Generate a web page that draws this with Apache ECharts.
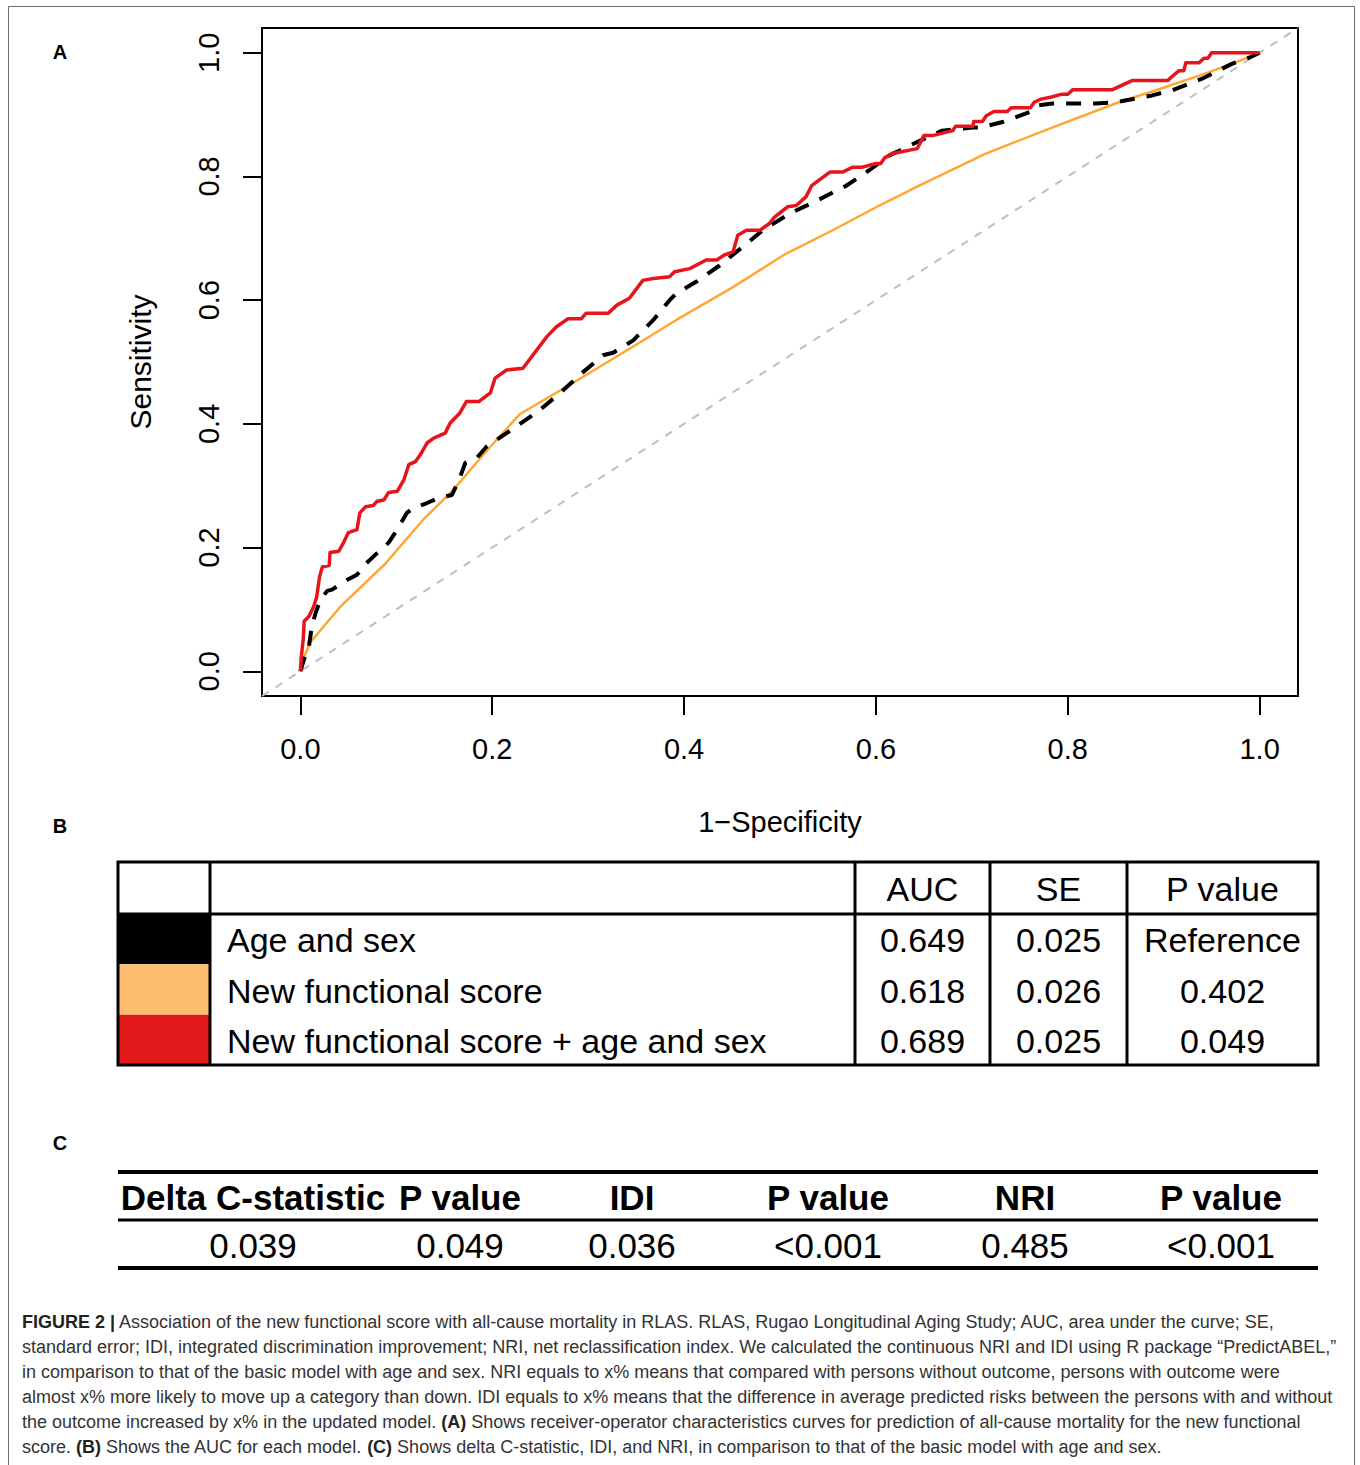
<!DOCTYPE html>
<html><head><meta charset="utf-8">
<script src="https://cdn.jsdelivr.net/npm/echarts@6/dist/echarts.min.js"></script>
<style>html,body{margin:0;padding:0;background:#fff;}#c{width:1360px;height:1465px;}</style>
</head><body><div id="c"></div>
<script>
// ---------- data ----------
const xTicks = [0, 0.2, 0.4, 0.6, 0.8, 1.0];
const yTicks = [0, 0.2, 0.4, 0.6, 0.8, 1.0];
const tickLabels = ['0.0', '0.2', '0.4', '0.6', '0.8', '1.0'];
const axisRange = [-0.04, 1.04];
const diagonalRef = [[-0.04, -0.04], [1.04, 1.04]];

// Age and sex (black dashed)
const ageSexROC = [[0,0],[0.005,0.025],[0.009,0.041],[0.012,0.073],[0.016,0.095],[0.021,0.116],[0.028,0.130],[0.033,0.132],[0.049,0.148],[0.059,0.156],[0.069,0.175],[0.080,0.191],[0.092,0.208],[0.101,0.229],[0.111,0.256],[0.118,0.264],[0.132,0.272],[0.144,0.280],[0.158,0.285],[0.166,0.312],[0.172,0.337],[0.184,0.345],[0.194,0.363],[0.2255,0.396],[0.250,0.423],[0.2705,0.4495],[0.295,0.484],[0.3155,0.511],[0.326,0.515],[0.347,0.535],[0.368,0.568],[0.385,0.600],[0.392,0.611],[0.413,0.630],[0.437,0.656],[0.461,0.686],[0.482,0.713],[0.510,0.740],[0.536,0.759],[0.569,0.785],[0.593,0.810],[0.614,0.834],[0.642,0.855],[0.669,0.874],[0.701,0.879],[0.709,0.879],[0.732,0.888],[0.760,0.904],[0.770,0.915],[0.784,0.918],[0.829,0.918],[0.850,0.920],[0.864,0.924],[0.888,0.931],[0.912,0.941],[0.940,0.958],[0.971,0.982],[0.989,0.992],[1,1]];

// New functional score (orange)
const newScoreROC = [[0,0],[0.003,0.019],[0.010,0.046],[0.042,0.105],[0.088,0.173],[0.128,0.245],[0.158,0.291],[0.198,0.363],[0.229,0.416],[0.2775,0.460],[0.347,0.525],[0.392,0.568],[0.451,0.621],[0.506,0.675],[0.555,0.713],[0.6035,0.753],[0.645,0.785],[0.7145,0.837],[0.787,0.881],[0.853,0.920],[0.891,0.939],[0.937,0.963],[0.971,0.982],[1,1]];

// New functional score + age and sex (red)
const combinedROC = [[0,0],[0.001,0.024],[0.003,0.052],[0.004,0.081],[0.009,0.089],[0.014,0.105],[0.017,0.12],[0.020,0.153],[0.023,0.169],[0.030,0.171],[0.031,0.192],[0.040,0.194],[0.045,0.208],[0.050,0.224],[0.059,0.229],[0.062,0.256],[0.068,0.266],[0.076,0.268],[0.080,0.275],[0.087,0.277],[0.092,0.289],[0.101,0.291],[0.108,0.31],[0.113,0.334],[0.120,0.339],[0.125,0.35],[0.132,0.369],[0.139,0.377],[0.151,0.385],[0.156,0.401],[0.166,0.417],[0.173,0.436],[0.186,0.436],[0.198,0.45],[0.203,0.474],[0.215,0.487],[0.232,0.49],[0.257,0.541],[0.267,0.557],[0.279,0.570],[0.293,0.570],[0.298,0.579],[0.321,0.579],[0.330,0.592],[0.343,0.603],[0.357,0.632],[0.368,0.635],[0.385,0.638],[0.390,0.646],[0.406,0.651],[0.423,0.665],[0.434,0.665],[0.442,0.673],[0.451,0.678],[0.456,0.705],[0.465,0.713],[0.479,0.713],[0.489,0.724],[0.494,0.734],[0.508,0.751],[0.517,0.753],[0.527,0.767],[0.533,0.785],[0.552,0.807],[0.565,0.807],[0.576,0.815],[0.586,0.815],[0.600,0.821],[0.605,0.821],[0.609,0.830],[0.617,0.837],[0.624,0.839],[0.643,0.845],[0.650,0.866],[0.659,0.866],[0.680,0.874],[0.683,0.881],[0.701,0.881],[0.702,0.889],[0.711,0.889],[0.715,0.898],[0.723,0.905],[0.737,0.905],[0.741,0.911],[0.761,0.911],[0.765,0.920],[0.772,0.925],[0.782,0.928],[0.794,0.933],[0.800,0.933],[0.805,0.940],[0.846,0.940],[0.867,0.955],[0.904,0.955],[0.912,0.966],[0.916,0.971],[0.921,0.971],[0.923,0.984],[0.937,0.984],[0.942,0.991],[0.946,0.991],[0.950,1.0],[1.0,1.0]];

// Table B
const modelNames = ['Age and sex', 'New functional score', 'New functional score + age and sex'];
const modelSwatches = ['#000000', '#FDBF6F', '#E31A1C'];
const tableBHeaders = ['AUC', 'SE', 'P value'];
const aucValues = ['0.649', '0.618', '0.689'];
const seValues = ['0.025', '0.026', '0.025'];
const pValues = ['Reference', '0.402', '0.049'];

// Table C
const tableCHeaders = ['Delta C-statistic', 'P value', 'IDI', 'P value', 'NRI', 'P value'];
const tableCValues = ['0.039', '0.049', '0.036', '<0.001', '0.485', '<0.001'];

// Caption (rich text lines; {b|...} = bold)
const captionLines = [
  '{b|FIGURE 2 |} Association of the new functional score with all-cause mortality in RLAS. RLAS, Rugao Longitudinal Aging Study; AUC, area under the curve; SE,',
  'standard error; IDI, integrated discrimination improvement; NRI, net reclassification index. We calculated the continuous NRI and IDI using R package \u201cPredictABEL,\u201d',
  'in comparison to that of the basic model with age and sex. NRI equals to x% means that compared with persons without outcome, persons with outcome were',
  'almost x% more likely to move up a category than down. IDI equals to x% means that the difference in average predicted risks between the persons with and without',
  'the outcome increased by x% in the updated model. {b|(A)} Shows receiver-operator characteristics curves for prediction of all-cause mortality for the new functional',
  'score. {b|(B)} Shows the AUC for each model. {b|(C)} Shows delta C-statistic, IDI, and NRI, in comparison to that of the basic model with age and sex.'
];

// ---------- layout / style ----------
const FONT = '"Liberation Sans", Arial, Helvetica, sans-serif';
const chart = echarts.init(document.getElementById('c'), null, { renderer: 'svg' });

const g = [];
// outer figure frame
g.push({ type: 'rect', silent: true, shape: { x: 8.5, y: 6.5, width: 1346, height: 1500 }, style: { fill: 'none', stroke: '#6b6b6b', lineWidth: 1 } });
// panel letters
[['A', 52], ['B', 826], ['C', 1143]].forEach(([t, y]) => {
  g.push({ type: 'text', x: 60, y: y, style: { text: t, font: 'bold 20px ' + FONT, fill: '#000', align: 'center', verticalAlign: 'middle' } });
});

// Table B
const TB = { l: 118, r: 1318, t: 862, hb: 914, b: 1065, cols: [210, 855, 990, 1127] };
const rowH = (TB.b - TB.hb) / modelNames.length;
modelSwatches.forEach((c, i) => {
  g.push({ type: 'rect', shape: { x: TB.l, y: TB.hb + i * rowH, width: TB.cols[0] - TB.l, height: rowH }, style: { fill: c } });
});
g.push({ type: 'rect', shape: { x: TB.l, y: TB.t, width: TB.r - TB.l, height: TB.b - TB.t }, style: { fill: 'none', stroke: '#000', lineWidth: 3 } });
g.push({ type: 'line', shape: { x1: TB.l, y1: TB.hb, x2: TB.r, y2: TB.hb }, style: { stroke: '#000', lineWidth: 3 } });
TB.cols.forEach(x => g.push({ type: 'line', shape: { x1: x, y1: TB.t, x2: x, y2: TB.b }, style: { stroke: '#000', lineWidth: 3 } }));
const numColEdges = [TB.cols[1], TB.cols[2], TB.cols[3], TB.r];
const tbFont = '34px ' + FONT;
tableBHeaders.forEach((h, j) => {
  g.push({ type: 'text', x: (numColEdges[j] + numColEdges[j + 1]) / 2, y: (TB.t + TB.hb) / 2 + 1, style: { text: h, font: tbFont, fill: '#000', align: 'center', verticalAlign: 'middle' } });
});
const tbCols = [aucValues, seValues, pValues];
modelNames.forEach((n, i) => {
  const cy = TB.hb + rowH * (i + 0.5) + 1;
  g.push({ type: 'text', x: TB.cols[0] + 17, y: cy, style: { text: n, font: tbFont, fill: '#000', align: 'left', verticalAlign: 'middle' } });
  tbCols.forEach((col, j) => {
    g.push({ type: 'text', x: (numColEdges[j] + numColEdges[j + 1]) / 2, y: cy, style: { text: col[i], font: tbFont, fill: '#000', align: 'center', verticalAlign: 'middle' } });
  });
});

// Table C
const TC = { l: 118, r: 1318, top: 1172, mid: 1220, bot: 1268, centers: [253, 460, 632, 828, 1025, 1221] };
[[TC.top, 4], [TC.mid, 3], [TC.bot, 4]].forEach(([y, w]) => {
  g.push({ type: 'line', shape: { x1: TC.l, y1: y, x2: TC.r, y2: y }, style: { stroke: '#000', lineWidth: w } });
});
tableCHeaders.forEach((h, j) => {
  g.push({ type: 'text', x: TC.centers[j], y: (TC.top + TC.mid) / 2 + 1, style: { text: h, font: 'bold 35px ' + FONT, fill: '#000', align: 'center', verticalAlign: 'middle' } });
});
tableCValues.forEach((v, j) => {
  g.push({ type: 'text', x: TC.centers[j], y: (TC.mid + TC.bot) / 2 + 1, style: { text: v, font: '35px ' + FONT, fill: '#000', align: 'center', verticalAlign: 'middle' } });
});

// Caption
captionLines.forEach((line, i) => {
  g.push({ type: 'text', x: 22, y: 1322 + i * 25, style: {
    text: line, font: '18px ' + FONT, fill: '#333', align: 'left', verticalAlign: 'middle',
    rich: { b: { fontWeight: 'bold', fontSize: 18, fontFamily: FONT, fill: '#222' } }
  } });
});

function tickLabel(v) {
  let best = 0;
  xTicks.forEach((t, i) => { if (Math.abs(t - v) < Math.abs(xTicks[best] - v)) best = i; });
  return tickLabels[best];
}

const axisCommon = {
  type: 'value', min: axisRange[0], max: axisRange[1],
  axisLine: { show: false, onZero: false }, splitLine: { show: false },
  nameTextStyle: { fontFamily: FONT, color: '#000' }
};

chart.setOption({
  animation: false,
  backgroundColor: 'transparent',
  grid: { left: 262, top: 28, width: 1036, height: 668, show: true, borderColor: '#000', borderWidth: 2, containLabel: false, outerBoundsMode: 'none' },
  xAxis: Object.assign({}, axisCommon, {
    position: 'bottom',
    name: '1\u2212Specificity', nameLocation: 'middle', nameGap: 111,
    nameTextStyle: { fontFamily: FONT, fontSize: 29, color: '#000' },
    axisTick: { show: true, length: 19, inside: false, customValues: xTicks, lineStyle: { color: '#000', width: 2 } },
    axisLabel: { customValues: xTicks, formatter: tickLabel, fontFamily: FONT, fontSize: 29, color: '#000', margin: 38 }
  }),
  yAxis: Object.assign({}, axisCommon, {
    position: 'left',
    name: 'Sensitivity', nameLocation: 'middle', nameGap: 107, nameRotate: 90,
    nameTextStyle: { fontFamily: FONT, fontSize: 30, color: '#000' },
    axisTick: { show: true, length: 19, inside: false, customValues: yTicks, lineStyle: { color: '#000', width: 2 } },
    axisLabel: { customValues: yTicks, formatter: tickLabel, fontFamily: FONT, fontSize: 29, color: '#000', rotate: 90, align: 'center', verticalAlign: 'bottom', margin: 39 }
  }),
  series: [
    { type: 'line', data: diagonalRef, showSymbol: false, symbol: 'none', silent: true, lineStyle: { color: '#BEBEBE', width: 2, type: [8, 8] }, z: 1 },
    { name: 'New functional score', type: 'line', data: newScoreROC, showSymbol: false, symbol: 'none', lineStyle: { color: '#FFA733', width: 2.5 }, z: 2 },
    { name: 'Age and sex', type: 'line', data: ageSexROC, showSymbol: false, symbol: 'none', lineStyle: { color: '#000', width: 4, type: [15, 12] }, z: 3 },
    { name: 'New functional score + age and sex', type: 'line', data: combinedROC, showSymbol: false, symbol: 'none', lineStyle: { color: '#E8141C', width: 3.5, join: 'round' }, z: 4 }
  ],
  graphic: { elements: g }
});
</script></body></html>
